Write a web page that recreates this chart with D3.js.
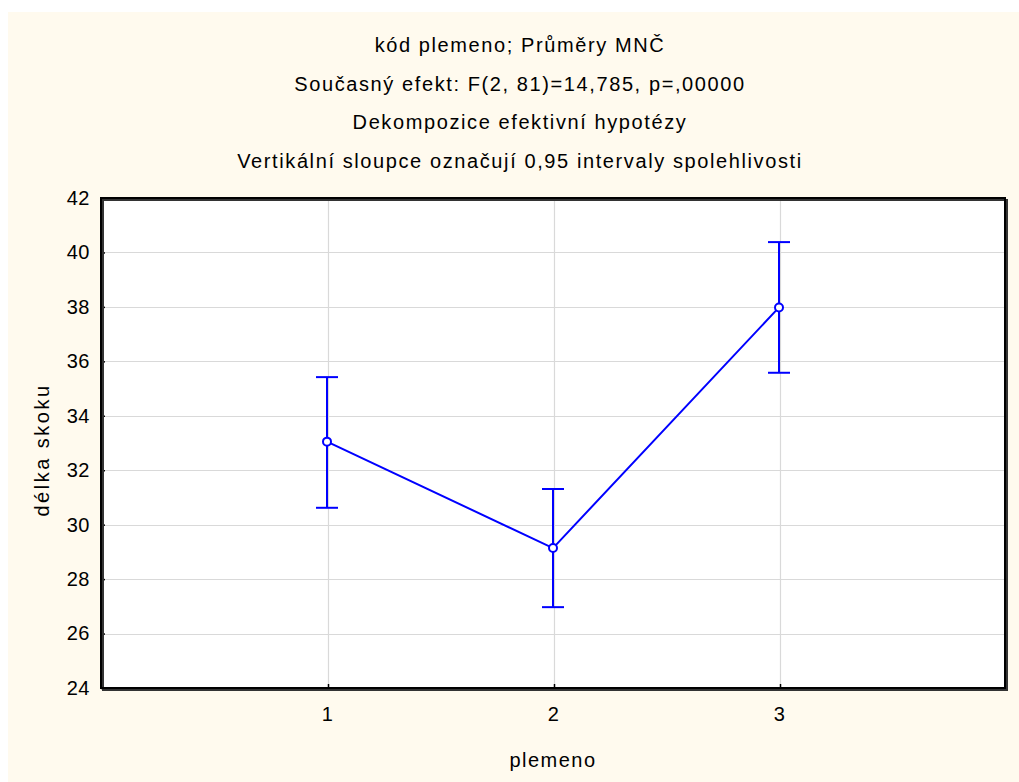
<!DOCTYPE html>
<html><head><meta charset="utf-8">
<script src="https://cdn.jsdelivr.net/npm/d3@7"></script>
<style>
html,body{margin:0;padding:0;background:#fff;}
svg{display:block;}
text{font-family:Arial,"Liberation Sans",sans-serif;fill:#000;}
</style></head>
<body>
<script>
const categories = [1, 2, 3];
const means = [33.05, 29.14, 37.98];
const lower = [30.62, 26.97, 35.58];
const upper = [35.42, 31.31, 40.38];
const yTicks = [24, 26, 28, 30, 32, 34, 36, 38, 40, 42];
const titleLines = [
  "kód plemeno; Průměry  MNČ",
  "Současný efekt: F(2, 81)=14,785, p=,00000",
  "Dekompozice efektivní hypotézy",
  "Vertikální sloupce označují 0,95 intervaly  spolehlivosti"
];
const xLabel = "plemeno";
const yLabel = "délka skoku";

const W = 1019, H = 782;
const L = 101, R = 1005, T = 198, B = 688;
const svg = d3.select("body").append("svg").attr("width", W).attr("height", H);
svg.append("rect").attr("x", 8).attr("y", 12).attr("width", W - 8).attr("height", H - 12).attr("fill", "#fffaee");

const x = d3.scaleLinear().domain([0, 4]).range([L, R]);
const y = d3.scaleLinear().domain([24, 42]).range([B, T]);

// titles
const tY = [45, 84, 122, 161];
titleLines.forEach((t, i) => {
  svg.append("text").attr("x", 520).attr("y", tY[i]).attr("text-anchor", "middle")
    .attr("dominant-baseline", "central").attr("font-size", 20).attr("letter-spacing", 1.6).text(t);
});

// plot background
svg.append("rect").attr("x", L).attr("y", T).attr("width", R - L).attr("height", B - T).attr("fill", "#fff");

// grid
const g = svg.append("g");
g.selectAll("line.h").data(yTicks.filter(v => v > 24 && v < 42)).enter().append("line")
  .attr("x1", L).attr("x2", R).attr("y1", d => Math.round(y(d)) + 0.5).attr("y2", d => Math.round(y(d)) + 0.5)
  .attr("stroke", "#d9d9d9").attr("stroke-width", 1.2);
g.selectAll("line.v").data(categories).enter().append("line")
  .attr("y1", T).attr("y2", B).attr("x1", d => Math.round(x(d)) + 1.5).attr("x2", d => Math.round(x(d)) + 1.5)
  .attr("stroke", "#d9d9d9").attr("stroke-width", 1.2);

// axes
const yAxis = d3.axisLeft(y).tickValues(yTicks).tickSize(-4).tickPadding(11).tickFormat(d3.format("d"));
const ya = svg.append("g").attr("transform", `translate(${L},0)`).call(yAxis);
const xAxis = d3.axisBottom(x).tickValues(categories).tickSize(-4).tickPadding(19).tickFormat(d3.format("d"));
const xa = svg.append("g").attr("transform", `translate(0,${B})`).call(xAxis);
[ya, xa].forEach(a => {
  a.select(".domain").remove();
  a.selectAll(".tick line").attr("stroke", "#000").attr("stroke-width", 1.5);
  a.selectAll("text").attr("font-size", 20).attr("letter-spacing", 0.5).attr("font-family", "Arial, 'Liberation Sans', sans-serif");
});
xa.selectAll(".tick line").attr("transform", "translate(1,0)");

// frame with shadow
svg.append("rect").attr("x", L + 2).attr("y", T + 2).attr("width", R - L).attr("height", B - T)
  .attr("fill", "none").attr("stroke", "#333").attr("stroke-width", 2);
svg.append("rect").attr("x", L).attr("y", T).attr("width", R - L).attr("height", B - T)
  .attr("fill", "none").attr("stroke", "#000").attr("stroke-width", 2);

// data
const blue = "#0000ff";
const data = categories.map((c, i) => ({c, m: means[i], lo: lower[i], hi: upper[i]}));
const eb = svg.append("g");
eb.selectAll("line.bar").data(data).enter().append("line")
  .attr("x1", d => x(d.c)).attr("x2", d => x(d.c)).attr("y1", d => y(d.lo)).attr("y2", d => y(d.hi))
  .attr("stroke", blue).attr("stroke-width", 2);
["lo", "hi"].forEach(k => {
  eb.selectAll("line.cap" + k).data(data).enter().append("line")
    .attr("x1", d => x(d.c) - 11).attr("x2", d => x(d.c) + 11).attr("y1", d => y(d[k])).attr("y2", d => y(d[k]))
    .attr("stroke", blue).attr("stroke-width", 2);
});
svg.append("path").datum(data).attr("fill", "none").attr("stroke", blue).attr("stroke-width", 2)
  .attr("d", d3.line().x(d => x(d.c)).y(d => y(d.m)));
svg.selectAll("circle.pt").data(data).enter().append("circle")
  .attr("cx", d => x(d.c)).attr("cy", d => y(d.m)).attr("r", 4)
  .attr("fill", "#fff").attr("stroke", blue).attr("stroke-width", 2);

// axis labels
svg.append("text").attr("x", 553).attr("y", 760).attr("text-anchor", "middle").attr("dominant-baseline", "central")
  .attr("font-size", 20).attr("letter-spacing", 1.5).text(xLabel);
svg.append("text").attr("transform", `translate(42,450) rotate(-90)`).attr("text-anchor", "middle")
  .attr("dominant-baseline", "central").attr("font-size", 20).attr("letter-spacing", 2.5).text(yLabel);
</script>
</body></html>
